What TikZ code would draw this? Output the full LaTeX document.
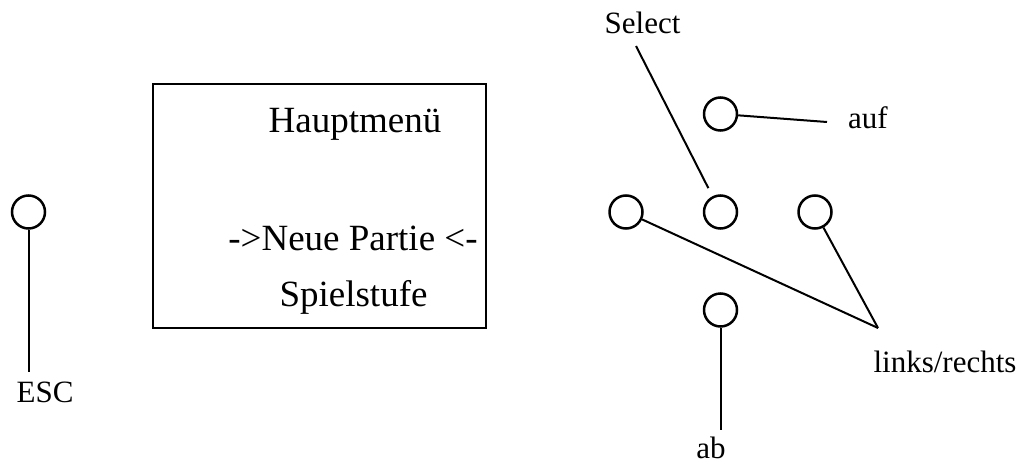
\documentclass[tikz,border=0pt]{standalone}
\usepackage{fontspec}
\setmainfont{Liberation Serif}
\begin{document}
\begin{tikzpicture}[x=1pt,y=-1pt,
  btn/.style={draw,circle,line width=2.5pt,minimum size=33pt,inner sep=0pt},
  conn/.style={line width=2pt},
  bigtext/.style={anchor=base,inner sep=0pt,font=\fontsize{37}{44}\selectfont},
  lbl/.style={anchor=base,inner sep=0pt,font=\fontsize{31}{37}\selectfont},
  screen/.style={draw,line width=1.8pt}]
\useasboundingbox (0,0) rectangle (1022,463);
% screen
\draw[screen] (153,84) rectangle (486,328);
\node[bigtext] (title) at (355,132) {Hauptmenü};
\node[bigtext] (item1) at (353,250) {->Neue Partie <-};
\node[bigtext] (item2) at (353.5,306) {Spielstufe};
% buttons
\node[btn] (esc) at (28.5,212) {};
\node[btn] (up) at (720.5,114) {};
\node[btn] (lft) at (626,212) {};
\node[btn] (mid) at (720.5,212) {};
\node[btn] (rgt) at (815,212) {};
\node[btn] (down) at (720.5,310) {};
% labels
\node[lbl] (lesc) at (45,402) {ESC};
\node[lbl] (lsel) at (642.5,33) {Select};
\node[lbl] (lauf) at (868,128) {auf};
\node[lbl] (llr) at (945,372) {links/rechts};
\node[lbl] (lab) at (711,458) {ab};
% connector ends
\coordinate (escend) at (28.5,372);
\coordinate (selstart) at (636,46);
\coordinate (aufend) at (827,122);
\coordinate (lrpt) at (878,328);
\coordinate (abend) at (720.5,430);
% connectors
\draw[conn] (esc) -- (escend);
\draw[conn,shorten >=9pt] (selstart) -- (mid);
\draw[conn] (up) -- (aufend);
\draw[conn] (lft) -- (lrpt);
\draw[conn] (rgt) -- (lrpt);
\draw[conn] (down) -- (abend);
\end{tikzpicture}
\end{document}
